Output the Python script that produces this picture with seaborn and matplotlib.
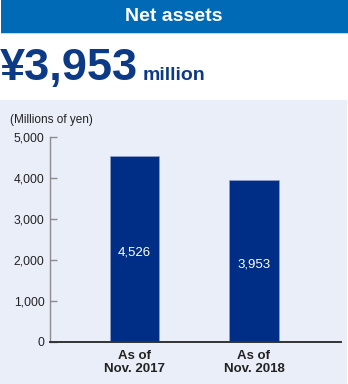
import matplotlib
matplotlib.use("Agg")
import matplotlib.pyplot as plt
from matplotlib.patches import Rectangle
import seaborn as sns
import pandas as pd

# ---- data ----
categories = ["As of\nNov. 2017", "As of\nNov. 2018"]
values = [4526, 3953]
value_labels = ["4,526", "3,953"]
yticks = [0, 1000, 2000, 3000, 4000, 5000]
ytick_labels = ["0", "1,000", "2,000", "3,000", "4,000", "5,000"]
title = "Net assets"
headline_value = "¥3,953"
headline_unit = "million"
unit_label = "(Millions of yen)"

sns.set_theme(style="white")
plt.rcParams["font.family"] = ["Liberation Sans", "DejaVu Sans"]

W, H = 348, 384
fig = plt.figure(figsize=(W / 100, H / 100), dpi=100)
fig.patch.set_facecolor("white")

def fx(px):
    return px / W

def fy(py):
    return 1 - py / H

# header band
fig.patches.append(Rectangle((fx(1), fy(33)), fx(347), 33 / H, transform=fig.transFigure,
                             facecolor="#006AB6", edgecolor="none", zorder=-2))
fig.patches.append(Rectangle((fx(1), fy(34)), fx(347), 1 / H, transform=fig.transFigure,
                             facecolor="#C5D8EE", edgecolor="none", zorder=-2))
# light panel
fig.patches.append(Rectangle((0, 0), fx(347), fy(100), transform=fig.transFigure,
                             facecolor="#EAEEF8", edgecolor="none", zorder=-2))

fig.text(fx(174), fy(16.5), title, color="white", fontsize=14, fontweight="bold",
         ha="center", va="center")
fig.text(fx(0), fy(80), headline_value, color="#0D3A87", fontsize=32.5, fontweight="bold",
         ha="left", va="baseline")
fig.text(fx(143), fy(80), headline_unit, color="#0D3A87", fontsize=14, fontweight="bold",
         ha="left", va="baseline")
fig.text(fx(10), fy(120), unit_label, color="#222222", fontsize=8.5, ha="left", va="center")

# axes
ax = fig.add_axes([fx(50), fy(342), (341 - 50) / W, (342 - 137) / H])
ax.set_facecolor("none")
ax.set_zorder(1)

df = pd.DataFrame({"category": categories, "value": values})
sns.barplot(data=df, x="category", y="value", color="#002E86", saturation=1,
            width=0.414, ax=ax, edgecolor="#9AA6CF", linewidth=0.4)

ax.set_xlim(-0.707, 1.728)
ax.set_ylim(0, 5000)
ax.set_yticks(yticks)
ax.set_yticklabels(ytick_labels)
ax.set_xlabel("")
ax.set_ylabel("")

for s in ["top", "right"]:
    ax.spines[s].set_visible(False)
ax.spines["left"].set_color("#8C8C8C")
ax.spines["left"].set_linewidth(1.0)
ax.spines["bottom"].set_color("#333333")
ax.spines["bottom"].set_linewidth(1.4)
ax.spines["bottom"].set_zorder(5)

ax.tick_params(axis="y", direction="in", length=5, width=1.0, color="#8C8C8C",
               labelsize=8.7, labelcolor="#222222", pad=4, left=True)
ax.tick_params(axis="x", length=0, pad=6)
for lbl in ax.get_xticklabels():
    lbl.set_fontweight("bold")
    lbl.set_fontsize(9.5)
    lbl.set_color("#222222")
    lbl.set_linespacing(1.1)

for i, (v, t) in enumerate(zip(values, value_labels)):
    ax.text(i, v * 0.48, t, color="white", fontsize=9.5, ha="center", va="center")

fig.savefig("out.png", dpi=100, facecolor="white")
